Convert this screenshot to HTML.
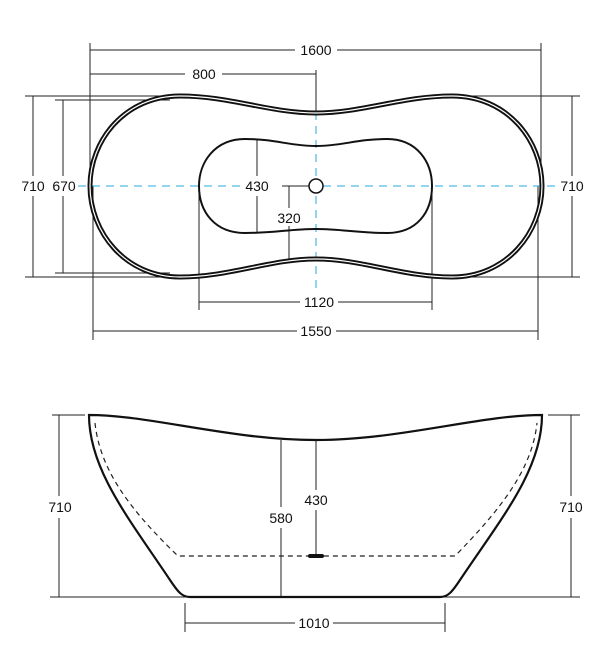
<!DOCTYPE html>
<html><head><style>body{margin:0;background:#fff}svg{display:block}text{font-family:"Liberation Sans",sans-serif;font-size:14px;fill:#111}</style></head><body>
<svg width="606" height="655" viewBox="0 0 606 655" xmlns="http://www.w3.org/2000/svg">
<g stroke="#222" stroke-width="1" fill="none">
<line x1="90" y1="43" x2="90" y2="186"/><line x1="541" y1="43" x2="541" y2="186"/>
<line x1="90" y1="50" x2="295" y2="50"/><line x1="337" y1="50" x2="541" y2="50"/>
<line x1="90" y1="74" x2="185" y2="74"/><line x1="222" y1="74" x2="316" y2="74"/>
<line x1="316" y1="70" x2="316" y2="112"/>
<line x1="25" y1="96" x2="185" y2="96"/><line x1="25" y1="277" x2="185" y2="277"/>
<line x1="33" y1="96" x2="33" y2="176"/><line x1="33" y1="196" x2="33" y2="277"/>
<line x1="55" y1="100" x2="170" y2="100"/><line x1="55" y1="273" x2="170" y2="273"/>
<line x1="63" y1="100" x2="63" y2="176"/><line x1="63" y1="196" x2="63" y2="273"/>
<line x1="445" y1="96" x2="580" y2="96"/><line x1="445" y1="277" x2="580" y2="277"/>
<line x1="572" y1="96" x2="572" y2="176"/><line x1="572" y1="196" x2="572" y2="277"/>
<line x1="199" y1="186" x2="199" y2="310"/><line x1="432" y1="186" x2="432" y2="310"/>
<line x1="199" y1="302" x2="300" y2="302"/><line x1="338" y1="302" x2="432" y2="302"/>
<line x1="93" y1="186" x2="93" y2="340"/><line x1="538" y1="186" x2="538" y2="340"/>
<line x1="93" y1="331" x2="297" y2="331"/><line x1="336" y1="331" x2="538" y2="331"/>
<line x1="257" y1="140" x2="257" y2="176"/><line x1="257" y1="196" x2="257" y2="232"/>
<line x1="282" y1="186" x2="309" y2="186"/><line x1="289" y1="186" x2="289" y2="208"/><line x1="289" y1="226" x2="289" y2="262"/>
</g>
<g stroke="#29a9e0" stroke-width="1" stroke-dasharray="8,6" fill="none">
<line x1="78" y1="186" x2="240" y2="186"/><line x1="323" y1="186" x2="558" y2="186"/>
<line x1="316" y1="112" x2="316" y2="290"/>
</g>
<path d="M316 113 C270 113 230 96 180 96 C125 96 90 140 90 186 C90 232 125 277 180 277 C230 277 270 259 316 259 C362 259 402 277 452 277 C507 277 542 232 542 186 C542 140 507 96 452 96 C402 96 362 113 316 113 Z" fill="none" stroke="#111" stroke-width="5"/>
<path d="M316 113 C270 113 230 96 180 96 C125 96 90 140 90 186 C90 232 125 277 180 277 C230 277 270 259 316 259 C362 259 402 277 452 277 C507 277 542 232 542 186 C542 140 507 96 452 96 C402 96 362 113 316 113 Z" fill="none" stroke="#fff" stroke-width="1.2"/>
<path d="M316 146 C290 146 275 139 245 139 C215 139 199 162 199 186 C199 212 215 233 245 233 C275 233 290 229 316 229 C342 229 357 233 387 233 C417 233 432 212 432 186 C432 162 417 139 387 139 C357 139 342 146 316 146 Z" fill="none" stroke="#111" stroke-width="2"/>
<circle cx="316" cy="186" r="7" fill="#fff" stroke="#111" stroke-width="1.5"/>
<text x="316" y="55" text-anchor="middle">1600</text>
<text x="204" y="79" text-anchor="middle">800</text>
<text x="33" y="191" text-anchor="middle">710</text>
<text x="64" y="191" text-anchor="middle">670</text>
<text x="572" y="191" text-anchor="middle">710</text>
<text x="257" y="191" text-anchor="middle">430</text>
<text x="289" y="223" text-anchor="middle">320</text>
<text x="319" y="307" text-anchor="middle">1120</text>
<text x="316" y="336" text-anchor="middle">1550</text>
<g stroke="#222" stroke-width="1" fill="none">
<line x1="52" y1="415" x2="85" y2="415"/><line x1="50" y1="597" x2="190" y2="597"/>
<line x1="59" y1="415" x2="59" y2="496"/><line x1="59" y1="518" x2="59" y2="597"/>
<line x1="548" y1="415" x2="580" y2="415"/><line x1="440" y1="597" x2="580" y2="597"/>
<line x1="571" y1="415" x2="571" y2="496"/><line x1="571" y1="518" x2="571" y2="597"/>
<line x1="281" y1="440" x2="281" y2="507"/><line x1="281" y1="528" x2="281" y2="597"/>
<line x1="316" y1="441" x2="316" y2="490"/><line x1="316" y1="510" x2="316" y2="556"/>
<line x1="185" y1="603" x2="185" y2="632"/><line x1="445" y1="603" x2="445" y2="632"/>
<line x1="185" y1="623" x2="295" y2="623"/><line x1="333" y1="623" x2="445" y2="623"/>
</g>
<path d="M89 415 C150 415 230 440 316 440 C400 440 480 415 542 415 C542 470 500 520 460 580 C452 592 448 597 440 597 L190 597 C182 597 178 592 170 580 C130 520 89 470 89 415 Z" fill="none" stroke="#111" stroke-width="2.2"/>
<path d="M95 423 C100 470 130 510 178 556 L455 556 C500 510 532 470 537 423" fill="none" stroke="#222" stroke-width="1.2" stroke-dasharray="5,4"/>
<line x1="310" y1="556" x2="322" y2="556" stroke="#111" stroke-width="4" stroke-linecap="round"/>
<text x="60" y="512" text-anchor="middle">710</text>
<text x="571" y="512" text-anchor="middle">710</text>
<text x="281" y="523" text-anchor="middle">580</text>
<text x="316" y="505" text-anchor="middle">430</text>
<text x="314" y="628" text-anchor="middle">1010</text>
</svg>
</body></html>
